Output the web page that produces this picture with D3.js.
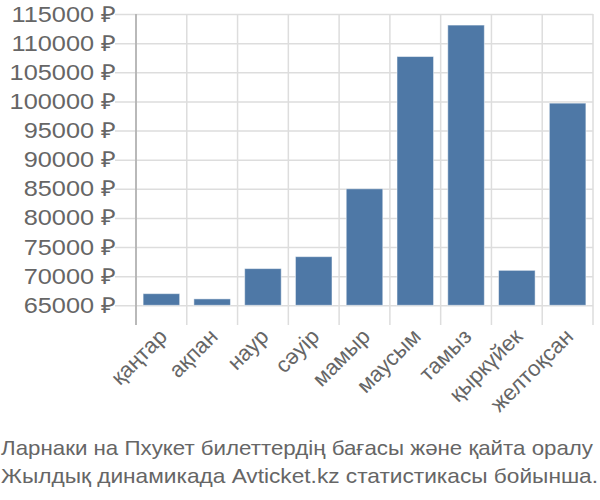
<!DOCTYPE html>
<html><head><meta charset="utf-8">
<script src="https://cdn.jsdelivr.net/npm/d3@7"></script>
<style>body{margin:0;background:#fff}svg{display:block}text{font-family:"Liberation Sans",Arial,sans-serif;fill:#666}</style>
</head><body>
<script>
const months = ["қаңтар","ақпан","наур","сәуір","мамыр","маусым","тамыз","қыркүйек","желтоқсан"];
const prices = [67000,66100,71300,73350,85000,107700,113100,71000,99700];
const yTicks = [65000,70000,75000,80000,85000,90000,95000,100000,105000,110000,115000];
const caption = ["Ларнаки на Пхукет билеттердің бағасы және қайта оралу","Жылдық динамикада Avticket.kz статистикасы бойынша."];

(function(){
const W=600,H=500, mL=136, mR=593, mT=14, base=305.3, mB=325;
const svg=d3.select("body").append("svg").attr("width",W).attr("height",H);
const x=d3.scaleBand().domain(months).range([mL,mR]).paddingInner(0.28).paddingOuter(0.14);
const y=d3.scaleLinear().domain([65000,115000]).range([base,mT]);

// horizontal grid + y labels
const ya=svg.append("g").attr("transform",`translate(${mL},0)`)
  .call(d3.axisLeft(y).tickValues(yTicks).tickSize(-(mR-mL)).tickSizeOuter(0).tickPadding(22).tickFormat(d=>d+" ₽"));
ya.select(".domain").remove();
ya.selectAll("line").attr("stroke","#ddd").attr("stroke-width",1.5).attr("x1",-21);
ya.selectAll("text").attr("font-size",22).attr("fill","#666").style("font-family","'Liberation Sans',Arial,sans-serif").attr("dx",2)
  .each(function(){ const L=this.getComputedTextLength(); d3.select(this).attr("textLength",L*1.15).attr("lengthAdjust","spacingAndGlyphs"); });

// vertical grid
const step=x.step();
const vx=d3.range(months.length+1).map(i=>mL+i*step);
svg.append("g").selectAll("line").data(vx).join("line")
  .attr("x1",d=>d).attr("x2",d=>d).attr("y1",mT).attr("y2",mB)
  .attr("stroke","#ddd").attr("stroke-width",1.5);
// y axis line
svg.append("line").attr("x1",mL).attr("x2",mL).attr("y1",mT).attr("y2",mB).attr("stroke","#aaa").attr("stroke-width",1.5);

// bars
svg.append("g").selectAll("rect").data(prices).join("rect")
  .attr("x",(d,i)=>x(months[i])).attr("width",x.bandwidth())
  .attr("y",d=>y(d)).attr("height",d=>y(65000)-y(d))
  .attr("fill","#4e78a6").attr("stroke","#fff").attr("stroke-opacity",0.5).attr("stroke-width",1);

// x labels
svg.append("g").selectAll("text").data(months).join("text")
  .attr("transform",d=>`translate(${x(d)+x.bandwidth()/2-4},${mB+2}) rotate(-45)`)
  .attr("text-anchor","end").attr("font-size",22).attr("dy","0.7em").text(d=>d);

// caption
const capLen=[592,597];
svg.append("g").selectAll("text").data(caption).join("text")
  .attr("x",1).attr("y",(d,i)=>455+i*28).attr("font-size",21)
  .attr("textLength",(d,i)=>capLen[i]).attr("lengthAdjust","spacingAndGlyphs").text(d=>d);
})();
</script>
</body></html>
